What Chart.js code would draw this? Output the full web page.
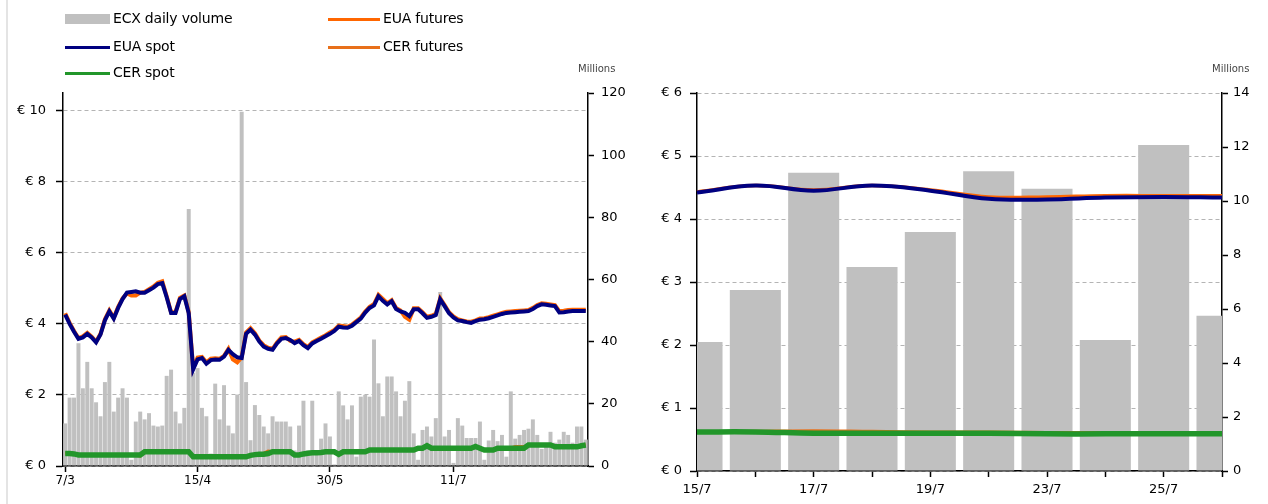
<!DOCTYPE html>
<html>
<head>
<meta charset="utf-8">
<script src="https://cdn.jsdelivr.net/npm/chart.js@4.4.1/dist/chart.umd.min.js"></script>
<style>
  body { margin: 0; width: 1268px; height: 504px; background: #fff; position: relative; overflow: hidden; font-family: "DejaVu Sans", Verdana, sans-serif; }
  #leftChart { position: absolute; left: 0; top: 0; }
  #rightChart { position: absolute; left: 640px; top: 0; }
  .frame { position: absolute; left: 6px; top: 0; width: 2px; height: 504px; background: #e4e4e4; }
  .item { position: absolute; font-size: 14px; color: #000; height: 18px; line-height: 18px; white-space: nowrap; letter-spacing: -0.2px; }
  .sw { display: inline-block; vertical-align: middle; margin-right: 3px; }
  .millions { position: absolute; top: 63px; font-size: 10px; color: #444; }
</style>
</head>
<body>
<div class="frame"></div>
<canvas id="leftChart" width="635" height="504"></canvas>
<canvas id="rightChart" width="628" height="504"></canvas>

<div class="item" style="left:65px;top:9px"><span class="sw" style="width:45px;height:10px;background:#c0c0c0"></span>ECX daily volume</div>
<div class="item" style="left:65px;top:37px"><span class="sw" style="width:45px;height:3px;background:#000080"></span>EUA spot</div>
<div class="item" style="left:65px;top:63px"><span class="sw" style="width:45px;height:3px;background:#22962a"></span>CER spot</div>
<div class="item" style="left:328px;top:9px"><span class="sw" style="width:52px;height:3px;background:#ff6600"></span>EUA futures</div>
<div class="item" style="left:328px;top:37px"><span class="sw" style="width:52px;height:3px;background:#e8701a"></span>CER futures</div>
<div class="millions" style="left:578px">Millions</div>
<div class="millions" style="left:1212px">Millions</div>

<script>
// =========================
// DATA - LEFT (daily, since 7/3)
// =========================

const leftTickLabels = ["7/3", "15/4", "30/5", "11/7"];
const leftTickIndex = [0, 30, 60, 88];

// ECX daily volume, millions
const volumeLong = [
  13.7, 22, 22, 39.5, 25, 33.5, 25, 20.5, 16, 27,
  33.5, 17.5, 22, 25, 22, 2, 14.3, 17.5, 15, 17,
  13, 12.7, 13, 29, 31, 17.5, 13.7, 18.7, 82.7, 30,
  31.5, 18.7, 16, 4, 26.5, 15, 26, 13, 10.5, 23,
  114, 27, 8.3, 19.6, 16.4, 12.7, 10.5, 16, 14.3, 14.3,
  14.3, 12.7, 5, 13, 21, 5, 21, 5, 8.8, 13.7,
  9.5, 0.5, 24, 19.5, 15, 19.5, 3, 22.3, 22.9, 22.3,
  40.7, 26.6, 16, 28.8, 28.8, 24, 16, 21, 27.3, 10.5,
  2, 11.6, 12.7, 9.5, 15.4, 56, 9.5, 11.6, 1, 15.4,
  13, 9, 9, 9, 14.3, 2, 8.2, 11.6, 8, 10,
  3, 24, 8.8, 10, 11.6, 12, 15, 10, 5.5, 7,
  11, 7.5, 8.5, 11, 10, 7.5, 12.7, 12.7, 8.5
];

const euaSpotLong = [
  4.26, 4.0, 3.78, 3.58, 3.62, 3.72, 3.62, 3.48, 3.7, 4.1,
  4.35, 4.15, 4.45, 4.7, 4.88, 4.9, 4.92, 4.88, 4.88, 4.95,
  5.02, 5.12, 5.15, 4.75, 4.31, 4.31, 4.7, 4.78, 4.3, 2.72,
  3.0, 3.04, 2.88, 2.98, 3.0, 2.99, 3.08, 3.27, 3.15, 3.06,
  3.04, 3.72, 3.84, 3.7, 3.5, 3.36, 3.3, 3.27, 3.45, 3.58,
  3.6, 3.55, 3.46, 3.52, 3.4, 3.32, 3.45, 3.52, 3.58, 3.65,
  3.72, 3.8, 3.92, 3.9, 3.89, 3.95, 4.05, 4.15, 4.32, 4.45,
  4.52, 4.78, 4.65, 4.55, 4.64, 4.42, 4.35, 4.31, 4.22, 4.41,
  4.41, 4.3, 4.17, 4.2, 4.25, 4.69, 4.5, 4.3, 4.18, 4.1,
  4.08, 4.05, 4.03, 4.08, 4.12, 4.13, 4.16, 4.2, 4.24, 4.28,
  4.31, 4.32, 4.33, 4.34, 4.35, 4.36, 4.42, 4.5, 4.55, 4.54,
  4.52, 4.5, 4.32, 4.33, 4.35, 4.36, 4.36, 4.36, 4.36
];

const euaFuturesLong = [
  4.3, 4.03, 3.8, 3.6, 3.65, 3.75, 3.64, 3.5, 3.72, 4.13,
  4.38, 4.17, 4.48, 4.72, 4.86, 4.8, 4.8, 4.88, 4.9, 4.98,
  5.05, 5.16, 5.2, 4.78, 4.33, 4.33, 4.73, 4.8, 4.33, 2.76,
  3.05, 3.07, 2.92, 3.02, 3.03, 3.02, 3.1, 3.3, 3.0, 2.92,
  3.06, 3.76, 3.88, 3.74, 3.53, 3.4, 3.33, 3.3, 3.48, 3.62,
  3.63, 3.52, 3.5, 3.55, 3.43, 3.35, 3.48, 3.55, 3.62, 3.68,
  3.76, 3.83, 3.95, 3.94, 3.92, 3.98, 4.08, 4.18, 4.35, 4.48,
  4.56, 4.82, 4.7, 4.58, 4.67, 4.45, 4.38, 4.2, 4.12, 4.44,
  4.44, 4.33, 4.2, 4.23, 4.28, 4.72, 4.53, 4.33, 4.21, 4.13,
  4.1, 4.07, 4.06, 4.1, 4.15, 4.16, 4.19, 4.23, 4.27, 4.31,
  4.34, 4.35, 4.36, 4.37, 4.38, 4.39, 4.45, 4.53, 4.58, 4.57,
  4.55, 4.53, 4.36, 4.37, 4.39, 4.4, 4.4, 4.4, 4.4
];

const cerSpotLong = [
  0.35, 0.35, 0.34, 0.31, 0.31, 0.31, 0.31, 0.31, 0.31, 0.31,
  0.31, 0.31, 0.31, 0.31, 0.31, 0.31, 0.31, 0.31, 0.40, 0.40,
  0.40, 0.40, 0.40, 0.40, 0.40, 0.40, 0.40, 0.40, 0.40, 0.26,
  0.26, 0.26, 0.26, 0.26, 0.26, 0.26, 0.26, 0.26, 0.26, 0.26,
  0.26, 0.26, 0.30, 0.32, 0.33, 0.33, 0.35, 0.40, 0.40, 0.40,
  0.40, 0.40, 0.31, 0.31, 0.34, 0.36, 0.37, 0.37, 0.38, 0.40,
  0.40, 0.40, 0.33, 0.40, 0.40, 0.40, 0.40, 0.40, 0.40, 0.45,
  0.45, 0.45, 0.45, 0.45, 0.45, 0.45, 0.45, 0.45, 0.45, 0.45,
  0.50, 0.50, 0.57, 0.50, 0.50, 0.50, 0.50, 0.50, 0.50, 0.50,
  0.50, 0.50, 0.50, 0.55, 0.50, 0.45, 0.45, 0.45, 0.50, 0.50,
  0.50, 0.50, 0.50, 0.50, 0.50, 0.59, 0.59, 0.59, 0.59, 0.59,
  0.59, 0.54, 0.54, 0.54, 0.54, 0.54, 0.54, 0.57, 0.59
];

const cerFuturesLong = [
  0.36, 0.36, 0.35, 0.32, 0.32, 0.32, 0.32, 0.32, 0.32, 0.32,
  0.32, 0.32, 0.32, 0.32, 0.32, 0.32, 0.30, 0.28, 0.41, 0.41,
  0.41, 0.41, 0.41, 0.41, 0.41, 0.41, 0.41, 0.41, 0.41, 0.27,
  0.27, 0.27, 0.27, 0.27, 0.27, 0.27, 0.27, 0.27, 0.27, 0.27,
  0.27, 0.27, 0.31, 0.33, 0.34, 0.36, 0.42, 0.41, 0.41, 0.41,
  0.41, 0.41, 0.32, 0.32, 0.35, 0.37, 0.38, 0.38, 0.39, 0.41,
  0.41, 0.41, 0.36, 0.41, 0.41, 0.41, 0.41, 0.41, 0.41, 0.46,
  0.46, 0.46, 0.46, 0.46, 0.46, 0.46, 0.46, 0.46, 0.46, 0.46,
  0.51, 0.51, 0.58, 0.51, 0.51, 0.51, 0.51, 0.51, 0.51, 0.51,
  0.51, 0.51, 0.51, 0.56, 0.51, 0.46, 0.46, 0.46, 0.51, 0.51,
  0.51, 0.51, 0.55, 0.55, 0.55, 0.58, 0.60, 0.60, 0.60, 0.60,
  0.60, 0.55, 0.55, 0.55, 0.55, 0.55, 0.55, 0.58, 0.60
];


// =========================
// DATA - RIGHT (last two weeks)
// =========================

const shortDays = ["15/7", "16/7", "17/7", "18/7", "19/7", "22/7", "23/7", "24/7", "25/7", "26/7"];
const volumeShort = [4.78, 6.7, 11.05, 7.56, 8.85, 11.1, 10.45, 4.85, 12.07, 5.75];
const euaSpotShort = [4.42, 4.53, 4.45, 4.53, 4.45, 4.32, 4.31, 4.34, 4.35, 4.34];
const euaFuturesShort = [4.43, 4.53, 4.46, 4.53, 4.46, 4.35, 4.35, 4.37, 4.37, 4.37];
const cerSpotShort = [0.62, 0.62, 0.60, 0.60, 0.60, 0.60, 0.59, 0.59, 0.59, 0.59];
const cerFuturesShort = [0.62, 0.63, 0.64, 0.63, 0.62, 0.62, 0.61, 0.61, 0.61, 0.61];


// =========================
// COMMON STYLE
// =========================

const NAVY = "#000080";
const ORANGE = "#ff6600";
const ORANGE_CER = "#e8701a";
const GREEN = "#22962a";
const GREY_BAR = "#c0c0c0";
const FONT = "'DejaVu Sans', Verdana, sans-serif";

function lineSet(label, data, color, width, order, tension) {
  return {
    type: "line",
    label,
    data,
    borderColor: color,
    backgroundColor: color,
    borderWidth: width,
    pointRadius: 0,
    tension,
    yAxisID: "y",
    order
  };
}


// =========================
// LEFT CHART
// =========================

new Chart(document.getElementById("leftChart"), {
  type: "bar",
  data: {
    labels: volumeLong.map((_, i) => i),
    datasets: [
      lineSet("CER spot", cerSpotLong, GREEN, 5.5, 1, 0),
      lineSet("CER futures", cerFuturesLong, ORANGE_CER, 3, 2, 0),
      lineSet("EUA spot", euaSpotLong, NAVY, 4, 3, 0),
      lineSet("EUA futures", euaFuturesLong, ORANGE, 4, 4, 0),
      {
        type: "bar",
        label: "ECX daily volume",
        data: volumeLong,
        backgroundColor: GREY_BAR,
        barPercentage: 0.9,
        categoryPercentage: 1,
        yAxisID: "y1",
        order: 5
      }
    ]
  },
  options: {
    responsive: false,
    animation: false,
    layout: { padding: { top: 93 } },
    plugins: { legend: { display: false }, tooltip: { enabled: false } },
    scales: {
      x: {
        offset: true,
        grid: { offset: false, drawOnChartArea: false, tickLength: 6, tickColor: "#000", tickWidth: 1.5 },
        border: { color: "#000", width: 1.5 },
        afterBuildTicks: axis => { axis.ticks = axis.ticks.filter(t => leftTickIndex.includes(t.value)); },
        ticks: {
          autoSkip: false, maxRotation: 0, padding: 2, color: "#000",
          font: { family: FONT, size: 12 },
          callback: v => leftTickLabels[leftTickIndex.indexOf(v)]
        },
        afterFit: s => { s.height = 38; }
      },
      y: {
        position: "left",
        min: 0,
        max: 10.5,
        afterBuildTicks: axis => { axis.ticks = axis.ticks.filter(t => t.value % 2 === 0); },
        ticks: {
          stepSize: 2, padding: 10, color: "#000",
          font: { family: FONT, size: 13 },
          callback: v => "€ " + v
        },
        grid: { color: "#b4b4b4", lineWidth: 1, tickColor: "#000", tickLength: 7, tickWidth: 1.5 },
        border: { color: "#000", width: 1.5, dash: [4, 3] },
        afterFit: s => { s.width = 63; }
      },
      y1: {
        position: "right",
        min: 0,
        max: 120,
        ticks: {
          stepSize: 20, padding: 7, color: "#000",
          font: { family: FONT, size: 13 }
        },
        grid: { drawOnChartArea: false, tickColor: "#000", tickLength: 6, tickWidth: 1.5 },
        border: { color: "#000", width: 1.5 },
        afterFit: s => { s.width = 47; }
      }
    }
  }
});


// =========================
// RIGHT CHART
// =========================

new Chart(document.getElementById("rightChart"), {
  type: "bar",
  data: {
    labels: shortDays,
    datasets: [
      lineSet("CER spot", cerSpotShort, GREEN, 5.5, 1, 0.4),
      lineSet("CER futures", cerFuturesShort, ORANGE_CER, 3, 2, 0.4),
      lineSet("EUA spot", euaSpotShort, NAVY, 4, 3, 0.4),
      lineSet("EUA futures", euaFuturesShort, ORANGE, 3.5, 4, 0.4),
      {
        type: "bar",
        label: "ECX daily volume",
        data: volumeShort,
        backgroundColor: GREY_BAR,
        barPercentage: 0.875,
        categoryPercentage: 1,
        yAxisID: "y1",
        clip: 0,
        order: 5
      }
    ]
  },
  options: {
    responsive: false,
    animation: false,
    layout: { padding: { top: 93 } },
    plugins: { legend: { display: false }, tooltip: { enabled: false } },
    scales: {
      x: {
        offset: false,
        grid: { offset: false, drawOnChartArea: false, tickLength: 6, tickColor: "#000", tickWidth: 1.5 },
        border: { color: "#000", width: 1.5 },
        ticks: {
          autoSkip: false, maxRotation: 0, padding: 5, color: "#000",
          font: { family: FONT, size: 13 },
          callback: (v, i) => (i % 2 === 0 ? shortDays[i] : "")
        },
        afterFit: s => { s.height = 33; }
      },
      y: {
        position: "left",
        min: 0,
        max: 6,
        ticks: {
          stepSize: 1, padding: 8, color: "#000",
          font: { family: FONT, size: 13 },
          callback: v => "€ " + v
        },
        grid: { color: "#b4b4b4", lineWidth: 1, tickColor: "#000", tickLength: 7, tickWidth: 1.5 },
        border: { color: "#000", width: 1.5, dash: [4, 3] },
        afterFit: s => { s.width = 57; }
      },
      y1: {
        position: "right",
        min: 0,
        max: 14,
        ticks: {
          stepSize: 2, padding: 5, color: "#000",
          font: { family: FONT, size: 13 }
        },
        grid: { drawOnChartArea: false, tickColor: "#000", tickLength: 6, tickWidth: 1.5 },
        border: { color: "#000", width: 1.5 },
        afterFit: s => { s.width = 46; }
      }
    }
  }
});
</script>
</body>
</html>
